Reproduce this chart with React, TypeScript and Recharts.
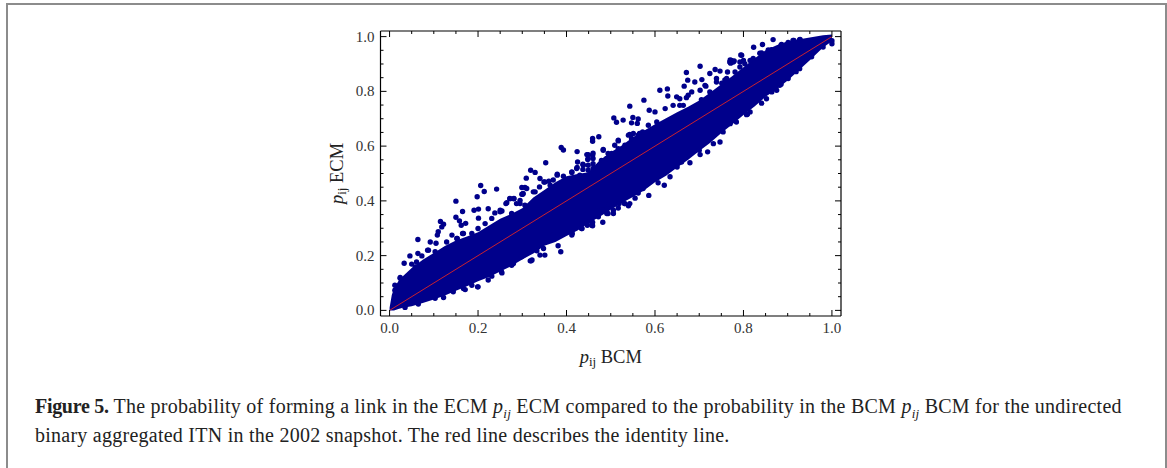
import React from 'react';
import { ComposedChart, Area, Line, Scatter, XAxis, YAxis } from 'recharts';

// dense core of the cloud
const bandX = [0, 0.005, 0.01, 0.02, 0.03, 0.05, 0.075, 0.1, 0.125, 0.15, 0.175, 0.2, 0.225, 0.25, 0.275, 0.3, 0.325, 0.35, 0.375, 0.4, 0.425, 0.45, 0.475, 0.5, 0.525, 0.55, 0.575, 0.6, 0.625, 0.65, 0.675, 0.7, 0.725, 0.75, 0.775, 0.8, 0.825, 0.85, 0.875, 0.9, 0.95, 0.98, 1];
const bandLow = [0, 0, 0, 0.005, 0.01, 0.015, 0.027, 0.04, 0.054, 0.072, 0.088, 0.106, 0.122, 0.142, 0.162, 0.186, 0.208, 0.236, 0.25, 0.272, 0.292, 0.318, 0.342, 0.368, 0.392, 0.414, 0.438, 0.468, 0.492, 0.522, 0.55, 0.582, 0.612, 0.648, 0.68, 0.714, 0.745, 0.78, 0.808, 0.84, 0.914, 0.96, 0.983];
const bandHigh = [0.01, 0.056, 0.08, 0.107, 0.125, 0.155, 0.185, 0.21, 0.235, 0.255, 0.27, 0.285, 0.31, 0.335, 0.352, 0.373, 0.412, 0.44, 0.468, 0.49, 0.498, 0.505, 0.548, 0.578, 0.602, 0.632, 0.656, 0.68, 0.702, 0.724, 0.744, 0.767, 0.796, 0.826, 0.856, 0.888, 0.92, 0.95, 0.968, 0.983, 0.997, 1.005, 1.008];

// single points above the core
const upperPoints = [
  [0.867, 0.989], [0.843, 0.971], [0.823, 0.961], [0.702, 0.892], [0.671, 0.869], [0.611, 0.804], [0.628, 0.809], [0.575, 0.768],
  [0.629, 0.783], [0.543, 0.746], [0.587, 0.731], [0.507, 0.703], [0.528, 0.695], [0.513, 0.687], [0.55, 0.705], [0.562, 0.699],
  [0.547, 0.685], [0.56, 0.683], [0.6, 0.725], [0.623, 0.737], [0.649, 0.78], [0.666, 0.819], [0.674, 0.841], [0.69, 0.834],
  [0.706, 0.843], [0.736, 0.88], [0.747, 0.874], [0.764, 0.871], [0.773, 0.913], [0.796, 0.932], [0.792, 0.907], [0.815, 0.913],
  [0.724, 0.865], [0.473, 0.634], [0.459, 0.628], [0.459, 0.618], [0.483, 0.588], [0.446, 0.569], [0.459, 0.567], [0.437, 0.534],
  [0.437, 0.515], [0.517, 0.619], [0.543, 0.643], [0.565, 0.646], [0.388, 0.595], [0.393, 0.586], [0.424, 0.58], [0.425, 0.542],
  [0.353, 0.539], [0.319, 0.512], [0.329, 0.504], [0.309, 0.483], [0.34, 0.482], [0.349, 0.469], [0.36, 0.472], [0.379, 0.494],
  [0.412, 0.504], [0.423, 0.518], [0.206, 0.456], [0.242, 0.443], [0.299, 0.449], [0.214, 0.434], [0.198, 0.415], [0.15, 0.399],
  [0.165, 0.361], [0.191, 0.366], [0.201, 0.37], [0.223, 0.371], [0.201, 0.337], [0.15, 0.34], [0.158, 0.327], [0.115, 0.325],
  [0.122, 0.315], [0.118, 0.305], [0.141, 0.275], [0.11, 0.287], [0.108, 0.275], [0.162, 0.311], [0.172, 0.318], [0.165, 0.281],
  [0.153, 0.263], [0.064, 0.259], [0.092, 0.25], [0.105, 0.245], [0.086, 0.22], [0.103, 0.214], [0.046, 0.199], [0.033, 0.172],
  [0.05, 0.169], [0.064, 0.208], [0.073, 0.199], [0.061, 0.177], [0.024, 0.12], [0.263, 0.39], [0.272, 0.409], [0.281, 0.409],
  [0.238, 0.356], [0.254, 0.363], [0.295, 0.39], [0.302, 0.427], [0.325, 0.433], [0.449, 0.569], [0.46, 0.574], [0.449, 0.555],
  [0.46, 0.536], [0.306, 0.449], [0.299, 0.424], [0.794, 0.933], [0.77, 0.915], [0.771, 0.903], [0.779, 0.911], [0.758, 0.842],
  [0.751, 0.83], [0.901, 0.979], [0.914, 0.986], [0.928, 0.99], [0.885, 0.969], [0.856, 0.951], [0.837, 0.939],
  [0.25, 0.366], [0.265, 0.393], [0.272, 0.408], [0.281, 0.408], [0.295, 0.402], [0.301, 0.424], [0.31, 0.445], [0.329, 0.433],
  [0.339, 0.451], [0.351, 0.469], [0.37, 0.476], [0.379, 0.497], [0.393, 0.49], [0.412, 0.506], [0.424, 0.522], [0.438, 0.53],
  [0.448, 0.551], [0.46, 0.518], [0.483, 0.585], [0.494, 0.573], [0.509, 0.603], [0.517, 0.622], [0.54, 0.64], [0.551, 0.646],
  [0.572, 0.652], [0.585, 0.676], [0.604, 0.688], [0.012, 0.092], [0.024, 0.117], [0.058, 0.159], [0.012, 0.074], [0.129, 0.25],
  [0.152, 0.263], [0.167, 0.281], [0.186, 0.281], [0.2, 0.299], [0.216, 0.317], [0.231, 0.336], [0.25, 0.36], [0.276, 0.354],
  [0.287, 0.39], [0.306, 0.384], [0.088, 0.22], [0.641, 0.749], [0.656, 0.749], [0.675, 0.786], [0.713, 0.822], [0.739, 0.847],
  [0.762, 0.847], [0.781, 0.871], [0.8, 0.913], [0.822, 0.92], [0.841, 0.94], [0.863, 0.952], [0.886, 0.971], [0.912, 0.986],
  [0.927, 0.989],
  [0.656, 0.773], [0.671, 0.777], [0.664, 0.749], [0.683, 0.798], [0.702, 0.804], [0.715, 0.819], [0.705, 0.77], [0.724, 0.798],
  [0.739, 0.834], [0.762, 0.834], [0.784, 0.853], [0.792, 0.889], [0.803, 0.901], [0.769, 0.907], [0.777, 0.907], [0.363, 0.457],
  [0.412, 0.482], [0.43, 0.494], [0.434, 0.469], [0.449, 0.512], [0.449, 0.53], [0.46, 0.555], [0.479, 0.548], [0.491, 0.555],
  [0.502, 0.573], [0.517, 0.591], [0.532, 0.603], [0.547, 0.628], [0.562, 0.64],
];

// single points below the core
const lowerPoints = [
  [0.122, 0.047], [0.167, 0.08], [0.199, 0.086], [0.186, 0.092], [0.223, 0.111], [0.231, 0.125], [0.254, 0.137], [0.276, 0.165],
  [0.318, 0.181], [0.322, 0.184], [0.34, 0.202], [0.351, 0.202], [0.387, 0.214], [0.381, 0.236], [0.333, 0.218], [0.413, 0.281],
  [0.586, 0.42], [0.562, 0.429], [0.555, 0.41], [0.543, 0.39], [0.54, 0.382], [0.531, 0.39], [0.519, 0.39], [0.517, 0.374],
  [0.506, 0.366], [0.506, 0.354], [0.496, 0.388], [0.494, 0.354], [0.482, 0.366], [0.482, 0.322], [0.472, 0.364], [0.459, 0.309],
  [0.459, 0.322], [0.447, 0.311], [0.447, 0.322], [0.435, 0.299], [0.435, 0.318], [0.457, 0.311], [0.412, 0.275], [0.621, 0.457],
  [0.607, 0.466], [0.679, 0.539], [0.719, 0.579], [0.747, 0.615], [0.732, 0.609], [0.702, 0.569], [0.7, 0.585], [0.66, 0.542],
  [0.65, 0.524], [0.807, 0.715], [0.77, 0.682], [0.841, 0.757], [0.864, 0.798], [0.882, 0.822], [0.809, 0.716], [0.885, 0.826],
  [0.919, 0.872], [1, 0.974], [1, 0.985],
  [0.035, 0.011], [0.065, 0.023], [0.103, 0.044], [0.144, 0.068], [0.171, 0.076], [0.2, 0.086], [0.253, 0.141], [0.28, 0.171],
  [0.298, 0.196], [0.32, 0.181], [0.348, 0.226], [0.37, 0.275], [0.434, 0.299], [0.472, 0.342], [0.491, 0.354], [0.532, 0.39],
  [0.573, 0.445], [0.634, 0.488], [0.754, 0.652], [0.784, 0.688], [0.815, 0.725], [0.852, 0.773], [0.875, 0.804], [0.901, 0.847],
  [0.927, 0.883], [0.954, 0.926], [0.98, 0.962],
];

const identityLine = [{ x: 0, y: 0 }, { x: 1, y: 1 }];
const axisTicks = [0, 0.05, 0.1, 0.15, 0.2, 0.25, 0.3, 0.35, 0.4, 0.45, 0.5, 0.55, 0.6, 0.65, 0.7, 0.75, 0.8, 0.85, 0.9, 0.95, 1];

const bandRows = bandX.map((x, i) => ({ x, range: [bandLow[i], bandHigh[i]] }));
const toRows = (pts: number[][]) => pts.map(([x, y]) => ({ x, y }));

const BLUE = '#00008B';
const DOMAIN: [number, number] = [-0.0205, 1.0205];
const isMajor = (v: number) => Math.abs(v * 5 - Math.round(v * 5)) < 1e-6;

const tickFor = (side: 'bottom' | 'top' | 'left' | 'right') => (props: any) => {
  const { x, y, payload } = props;
  const len = isMajor(payload.value) ? 6 : 3;
  const label = payload.value.toFixed(1);
  const common = { fontFamily: 'Liberation Serif', fontSize: 15, fill: '#333' };
  if (side === 'bottom')
    return (
      <g>
        <line x1={x} x2={x} y1={y} y2={y - len} stroke="#000" strokeWidth={1} />
        {len === 6 && <text x={x} y={y + 17} textAnchor="middle" {...common}>{label}</text>}
      </g>
    );
  if (side === 'top') return <line x1={x} x2={x} y1={y} y2={y + len} stroke="#000" strokeWidth={1} />;
  if (side === 'left')
    return (
      <g>
        <line x1={x} x2={x + len} y1={y} y2={y} stroke="#000" strokeWidth={1} />
        {len === 6 && <text x={x - 6} y={y + 5} textAnchor="end" {...common}>{label}</text>}
      </g>
    );
  return <line x1={x} x2={x - len} y1={y} y2={y} stroke="#000" strokeWidth={1} />;
};

const dot = (p: any) => <circle cx={p.cx} cy={p.cy} r={2.7} fill={BLUE} />;

const XTitle = (props: any) => {
  const { viewBox } = props;
  return (
    <text x={viewBox.x + viewBox.width / 2} y={viewBox.y + 47} textAnchor="middle" fontFamily="Liberation Serif" fontSize={18.5} fill="#222">
      <tspan fontStyle="italic">p</tspan>
      <tspan fontSize={13} dy={3}>ij</tspan>
      <tspan dy={-3}> BCM</tspan>
    </text>
  );
};

const YTitle = (props: any) => {
  const { viewBox } = props;
  const cx = 343;
  const cy = viewBox.y + viewBox.height / 2;
  return (
    <text x={cx} y={cy} transform={`rotate(-90 ${cx} ${cy})`} textAnchor="middle" fontFamily="Liberation Serif" fontSize={18.5} fill="#222">
      <tspan fontStyle="italic">p</tspan>
      <tspan fontSize={13} dy={3}>ij</tspan>
      <tspan dy={-3}> ECM</tspan>
    </text>
  );
};

const captionStyle: React.CSSProperties = {
  position: 'absolute',
  left: 35,
  fontFamily: 'Liberation Serif',
  fontSize: 20,
  letterSpacing: 0.25,
  color: '#222',
  whiteSpace: 'nowrap',
  lineHeight: '22px',
};

const Pij = () => (
  <span style={{ fontStyle: 'italic' }}>
    p<sub style={{ fontSize: 13, lineHeight: 0 }}>ij</sub>
  </span>
);

export default function App() {
  return (
    <div style={{ position: 'absolute', left: 0, top: 0, width: 1167, height: 468, overflow: 'hidden', background: '#fff' }}>
      <div style={{ position: 'absolute', left: 6, top: 3, width: 1157, height: 500, border: '2px solid #8c8c8c' }} />
      <div style={{ position: 'absolute', left: 0, top: 0 }}>
        <ComposedChart width={1167} height={468} data={bandRows} margin={{ top: 30, right: 325, bottom: 112, left: 320.5 }}>
          <XAxis dataKey="x" type="number" domain={DOMAIN} ticks={axisTicks} interval={0} height={40} tickSize={0} tickMargin={0} allowDataOverflow axisLine={{ stroke: '#000', strokeWidth: 1.2 }} tick={tickFor('bottom')} label={<XTitle />} />
          <XAxis xAxisId="top" orientation="top" dataKey="x" type="number" domain={DOMAIN} ticks={axisTicks} interval={0} height={1} tickSize={0} tickMargin={0} allowDataOverflow axisLine={{ stroke: '#000', strokeWidth: 1.2 }} tick={tickFor('top')} />
          <YAxis dataKey="y" type="number" domain={DOMAIN} ticks={axisTicks} interval={0} width={60} tickSize={0} tickMargin={0} allowDataOverflow axisLine={{ stroke: '#000', strokeWidth: 1.2 }} tick={tickFor('left')} label={<YTitle />} />
          <YAxis yAxisId="right" orientation="right" dataKey="y" type="number" domain={DOMAIN} ticks={axisTicks} interval={0} width={1} tickSize={0} tickMargin={0} allowDataOverflow axisLine={{ stroke: '#000', strokeWidth: 1.2 }} tick={tickFor('right')} />
          <Area dataKey="range" type="linear" fill={BLUE} fillOpacity={1} stroke="none" dot={false} activeDot={false} isAnimationActive={false} />
          <Scatter data={toRows(upperPoints)} dataKey="y" shape={dot} isAnimationActive={false} />
          <Scatter data={toRows(lowerPoints)} dataKey="y" shape={dot} isAnimationActive={false} />
          <Line data={identityLine} dataKey="y" type="linear" stroke="#C8202F" strokeWidth={1} dot={false} activeDot={false} isAnimationActive={false} />
        </ComposedChart>
      </div>
      <div style={{ ...captionStyle, top: 395 }}>
        <b style={{ letterSpacing: -0.3 }}>Figure 5.</b> The probability of forming a link in the ECM <Pij /> ECM compared to the probability in the BCM <Pij /> BCM for the undirected
      </div>
      <div style={{ ...captionStyle, top: 424 }}>
        binary aggregated ITN in the 2002 snapshot. The red line describes the identity line.
      </div>
    </div>
  );
}
